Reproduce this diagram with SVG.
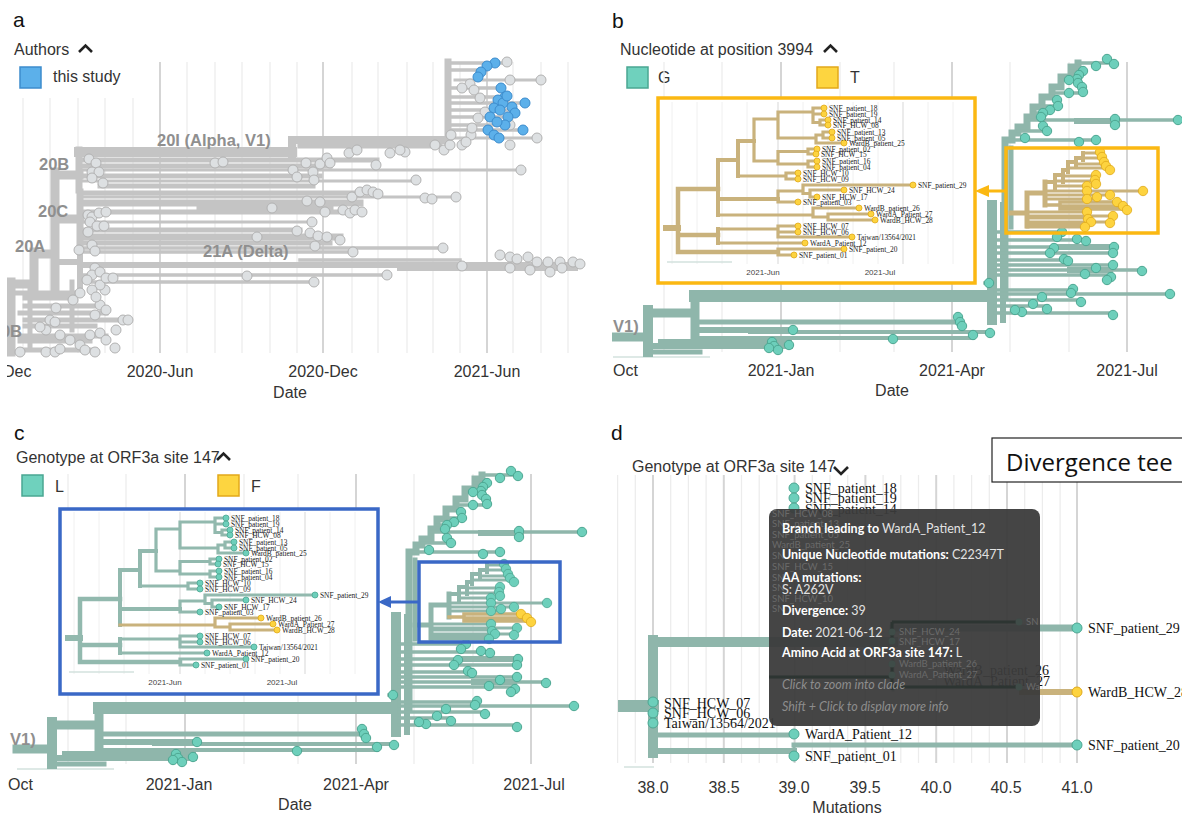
<svg xmlns="http://www.w3.org/2000/svg" width="1182" height="819" viewBox="0 0 1182 819">
<style>
text{font-family:"Liberation Sans",Arial,sans-serif}
.pl{font-size:21px;fill:#111}
.lg{font-size:16px;fill:#333}
.ax{font-size:16px;fill:#333;text-anchor:middle}
.cl{font-size:16.5px;font-weight:bold;fill:#8f8f8f}
.chev{fill:none;stroke:#222;stroke-width:2.6}
.gl{stroke:#ececec;stroke-width:1.2}
.gd{stroke:#d5d5d5;stroke-width:2}
.ga{fill:none;stroke:#c4c4c4;stroke-linecap:square}
.na circle{fill:#dde0e2;stroke:#b2b2b2;stroke-width:1}
.nb circle{fill:#5cb0ea;stroke:#3c8ccd;stroke-width:1}
.lt{fill:none;stroke:#8fb6ab;stroke-linecap:square}
.nt circle{fill:#6dcfbb;stroke:#4da792;stroke-width:1}
.ny circle{fill:#fdd33f;stroke:#e0a91b;stroke-width:1}
.vl{fill:none;stroke:var(--lc);stroke-linecap:square}
.vw{fill:none;stroke:var(--lw);stroke-linecap:square}
.vn circle{fill:var(--nf);stroke:var(--ns);stroke-width:0.8}
.vm circle{fill:var(--wf);stroke:var(--ws);stroke-width:0.8}
.il text{font-family:"Liberation Serif","Times New Roman",serif;font-size:7.4px;fill:#222}
.ix{font-size:8px;fill:#444;text-anchor:middle}
.dl text{font-family:"Liberation Serif","Times New Roman",serif;font-size:14px;fill:#111}
.tt text{font-family:Lato,"Liberation Sans",sans-serif;font-size:12.5px;fill:#e2e2e2}
.tt .tb{font-weight:bold;fill:#fff}
.tt .ti{font-style:italic;fill:#8d8d8d}
.fl text{font-size:9.5px;fill:#6a6a6a;font-family:Lato,"Liberation Sans",sans-serif}
.big{font-family:"Open Sans","Noto Sans",sans-serif;font-size:24px;fill:#111}
</style>
<defs>
<clipPath id="clipA"><rect x="7" y="0" width="583" height="410"/></clipPath>
<clipPath id="clipB"><rect x="612" y="40" width="570" height="370"/></clipPath>
<clipPath id="clipC"><rect x="8" y="440" width="592" height="379"/></clipPath>

<g id="bcGrid">
<path class="gl" d="M664,62V352 M722,62V352 M840,62V352 M894,62V352 M1010,62V352 M1069,62V352"/>
<path class="gd" d="M781,62V352 M952,62V352 M1127,62V352"/>
</g>

<g id="bcBase">
<path d="M613,357H710" stroke="#d3e2de" stroke-width="1.5"/>
<path class="lt" stroke-width="9" d="M613,337H648 M648,313H695 M695,296V335"/>
<path class="lt" stroke-width="10" d="M648,310V352 M992,205V320"/>
<path class="lt" stroke-width="12" d="M695,296H985"/>
<path class="lt" stroke-width="6" d="M1003,205V320 M700,330H793 M648,346H790 M1060,247H1110 M1070,270H1110 M1077,121H1117"/>
<path class="lt" stroke-width="5" d="M700,322H958 M648,352H700 M1011,148V227"/>
<path class="lt" stroke-width="4" d="M750,332H990 M700,338H973 M660,341H790"/>
<path class="lt" stroke-width="7" stroke-linejoin="miter" d="M1005,296V140H1012V133H1018V127H1027V117H1033V107H1042V97H1052V87H1061V77H1071V67H1078V63"/>
<path class="lt" stroke-width="3.5" d="M1005,140H1096 M1018,131H1047 M1027,120H1178 M1033,113H1043 M1042,106H1058 M1052,93H1083 M1061,80H1078 M1071,71H1083 M1078,63H1114 M995,232H1062 M995,240H1086 M995,247H1114 M995,253H1113 M995,260H1067 M995,265H1113 M995,270H1142 M995,275H1111 M995,290H1073 M995,294H1170 M995,300H1081 M995,306H1047 M995,313H1113 M985,283H989"/>
<g class="nt">
<circle cx="1107" cy="59" r="4.7"/><circle cx="1114" cy="64" r="4.7"/><circle cx="1096" cy="66" r="4.7"/><circle cx="1083" cy="71" r="4.7"/><circle cx="1079" cy="75" r="4.7"/><circle cx="1077" cy="79" r="4.7"/><circle cx="1078" cy="83" r="4.7"/><circle cx="1082" cy="87" r="4.7"/><circle cx="1083" cy="92" r="4.7"/><circle cx="1069" cy="80" r="4.7"/><circle cx="1069" cy="93" r="4.7"/><circle cx="1057" cy="100" r="4.7"/><circle cx="1058" cy="106" r="4.7"/><circle cx="1050" cy="110" r="4.7"/><circle cx="1043" cy="113" r="4.7"/><circle cx="1041" cy="117" r="4.7"/><circle cx="1043" cy="126" r="4.7"/><circle cx="1047" cy="131" r="4.7"/><circle cx="1025" cy="138" r="4.7"/><circle cx="1079" cy="142" r="4.7"/><circle cx="1096" cy="140" r="4.7"/><circle cx="1115" cy="119" r="4.7"/><circle cx="1115" cy="125" r="4.7"/><circle cx="1178" cy="120" r="4.7"/>
<circle cx="1062" cy="232" r="4.7"/><circle cx="1057" cy="237" r="4.7"/><circle cx="1077" cy="239" r="4.7"/><circle cx="1086" cy="241" r="4.7"/><circle cx="1054" cy="248" r="4.7"/><circle cx="1050" cy="253" r="4.7"/><circle cx="1114" cy="247" r="4.7"/><circle cx="1113" cy="253" r="4.7"/><circle cx="1064" cy="259" r="4.7"/><circle cx="1068" cy="261" r="4.7"/><circle cx="1113" cy="265" r="4.7"/><circle cx="1096" cy="268" r="4.7"/><circle cx="1142" cy="271" r="4.7"/><circle cx="1085" cy="274" r="4.7"/><circle cx="1111" cy="277" r="4.7"/><circle cx="1107" cy="280" r="4.7"/><circle cx="1073" cy="289" r="4.7"/><circle cx="1071" cy="293" r="4.7"/><circle cx="1170" cy="294" r="4.7"/><circle cx="1042" cy="297" r="4.7"/><circle cx="1033" cy="304" r="4.7"/><circle cx="1047" cy="309" r="4.7"/><circle cx="1081" cy="302" r="4.7"/><circle cx="1022" cy="312" r="4.7"/><circle cx="1113" cy="315" r="4.7"/><circle cx="1015" cy="310" r="4.7"/><circle cx="989" cy="283" r="4.7"/>
<circle cx="793" cy="330" r="4.7"/><circle cx="772" cy="342" r="4.7"/><circle cx="774" cy="346" r="4.7"/><circle cx="778" cy="350" r="4.7"/><circle cx="769" cy="348" r="4.7"/><circle cx="789" cy="345" r="4.7"/><circle cx="958" cy="317" r="4.7"/><circle cx="960" cy="322" r="4.7"/><circle cx="962" cy="326" r="4.7"/><circle cx="990" cy="333" r="4.7"/><circle cx="973" cy="335" r="4.7"/><circle cx="893" cy="339" r="4.7"/>
</g>
</g>

<g id="bcClade">
<path class="vl" stroke-width="5" d="M1011,213H1027 M1027,193V226 M1027,193H1045 M1045,182V205"/>
<path class="vl" stroke-width="4" d="M1045,182H1055 M1055,175V190 M1055,175H1063 M1063,170V182 M1063,170H1068 M1068,162V172 M1068,162H1076 M1076,158V166 M1076,158H1083 M1083,153V160"/>
<path class="vl" stroke-width="3" d="M1083,153H1100 M1083,158H1103 M1076,164H1104 M1068,168H1110 M1063,176H1096 M1055,181H1095 M1055,186H1087 M1045,191H1143 M1045,195H1110 M1045,199H1097 M1027,212H1087 M1027,218H1088 M1027,216H1113 M1027,222H1110 M1027,224H1091 M1027,227H1085"/>
<path class="vw" stroke-width="3.5" d="M1045,205H1060 M1060,202V209 M1060,202H1117 M1060,206H1123 M1060,209H1127"/>
<g class="vn">
<circle cx="1100" cy="152" r="4.7"/><circle cx="1102" cy="157" r="4.7"/><circle cx="1104" cy="162" r="4.7"/><circle cx="1106" cy="166" r="4.7"/><circle cx="1110" cy="170" r="4.7"/><circle cx="1096" cy="175" r="4.7"/><circle cx="1095" cy="180" r="4.7"/><circle cx="1096" cy="184" r="4.7"/><circle cx="1087" cy="186" r="4.7"/><circle cx="1087" cy="191" r="4.7"/><circle cx="1143" cy="191" r="4.7"/><circle cx="1110" cy="195" r="4.7"/><circle cx="1097" cy="197" r="4.7"/><circle cx="1087" cy="199" r="4.7"/><circle cx="1087" cy="212" r="4.7"/><circle cx="1088" cy="219" r="4.7"/><circle cx="1113" cy="216" r="4.7"/><circle cx="1110" cy="223" r="4.7"/><circle cx="1091" cy="222" r="4.7"/><circle cx="1085" cy="227" r="4.7"/>
</g>
<g class="vm"><circle cx="1117" cy="202" r="4.7"/><circle cx="1123" cy="206" r="4.7"/><circle cx="1127" cy="210" r="4.7"/></g>
</g>

<g id="inset">
<path d="M14,4V166 M39,4V166 M64,4V166 M89,4V166 M145,4V166 M170,4V166 M195,4V166 M220,4V166 M270,4V166 M295,4V166" stroke="#eeeeee" stroke-width="0.9"/>
<path d="M120,4V166 M245,4V166" stroke="#e0e0e0" stroke-width="1.3"/>
<path d="M9,164H74" stroke="#d3e2de" stroke-width="1.5"/>
<text class="ix" x="105" y="177">2021-Jun</text>
<text class="ix" x="222" y="177">2021-Jul</text>
<path class="vl" stroke-width="6" d="M8,130H20"/>
<path class="vl" stroke-width="4.5" d="M20,91V154 M20,91H60 M20,137H60 M20,154H120"/>
<path class="vl" stroke-width="4" d="M60,62V117 M60,62H80 M80,43V78 M80,43H96 M60,101H120 M60,131V145"/>
<path class="vl" stroke-width="3.2" d="M96,21V63 M96,21H120 M120,14V40 M120,14H155 M155,10V24.5 M155,10H166 M155,16H166 M155,24.5H162 M162,22V27 M162,22H170 M162,27H170 M120,40H158 M158,37V45 M158,37H165 M165,34V40 M165,34H174 M165,40H174 M158,45H186 M96,63H120 M120,53.5V66 M120,53.5H150 M150,51V56 M150,51H159 M150,56H158 M120,66H150 M150,63V69 M150,63H159 M150,69H159 M80,78H128 M128,75V81 M128,75H140 M128,81H140 M120,93V104 M120,93H145 M145,87V95.5 M145,87H255 M145,95.5H152 M152,92V99 M152,92H186 M152,99H159 M120,104H140 M60,131H120 M120,128V139 M120,128H140 M120,134H140 M120,139H194 M60,145H147 M120,151V157 M120,151H186 M120,157H136"/>
<path class="vw" stroke-width="3.2" d="M60,117H155 M155,110V119 M155,110H201 M155,119H170 M170,116V122 M170,116H213 M170,122H217"/>
<g class="vn">
<circle cx="166" cy="10" r="3"/><circle cx="166" cy="16" r="3"/><circle cx="170" cy="22" r="3"/><circle cx="170" cy="27" r="3"/><circle cx="174" cy="34" r="3"/><circle cx="174" cy="40" r="3"/><circle cx="186" cy="45" r="3"/><circle cx="159" cy="51" r="3"/><circle cx="158" cy="56" r="3"/><circle cx="159" cy="63" r="3"/><circle cx="159" cy="69" r="3"/><circle cx="140" cy="75" r="3"/><circle cx="140" cy="81" r="3"/><circle cx="255" cy="87" r="3"/><circle cx="186" cy="92" r="3"/><circle cx="159" cy="99" r="3"/><circle cx="140" cy="104" r="3"/><circle cx="140" cy="128" r="3"/><circle cx="140" cy="134" r="3"/><circle cx="194" cy="139" r="3"/><circle cx="147" cy="145" r="3"/><circle cx="186" cy="151" r="3"/><circle cx="136" cy="157" r="3"/>
</g>
<g class="vm"><circle cx="201" cy="110" r="3"/><circle cx="213" cy="116" r="3"/><circle cx="217" cy="122" r="3"/></g>
<g class="il">
<text x="171" y="12.5">SNF_patient_18</text><text x="171" y="18.5">SNF_patient_19</text><text x="175" y="24.5">SNF_patient_14</text><text x="175" y="29.5">SNF_HCW_08</text><text x="179" y="36.5">SNF_patient_13</text><text x="179" y="42.5">SNF_patient_05</text><text x="191" y="47.5">WardB_patient_25</text><text x="164" y="53.5">SNF_patient_02</text><text x="163" y="58.5">SNF_HCW_15</text><text x="164" y="65.5">SNF_patient_16</text><text x="164" y="71.5">SNF_patient_04</text><text x="145" y="77.5">SNF_HCW_10</text><text x="145" y="83.5">SNF_HCW_09</text><text x="260" y="89.5">SNF_patient_29</text><text x="191" y="94.5">SNF_HCW_24</text><text x="164" y="101.5">SNF_HCW_17</text><text x="145" y="106.5">SNF_patient_03</text><text x="206" y="112.5">WardB_patient_26</text><text x="218" y="118.5">WardA_Patient_27</text><text x="222" y="124.5">WardB_HCW_28</text><text x="145" y="130.5">SNF_HCW_07</text><text x="145" y="136.5">SNF_HCW_06</text><text x="199" y="141.5">Taiwan/13564/2021</text><text x="152" y="147.5">WardA_Patient_12</text><text x="191" y="153.5">SNF_patient_20</text><text x="141" y="159.5">SNF_patient_01</text>
</g>
</g>
</defs>

<rect width="1182" height="819" fill="#ffffff"/>

<!-- Panel a -->
<g id="panel-a">
<text class="pl" x="13" y="27">a</text>
<text class="lg" x="14" y="55">Authors</text>
<polyline class="chev" points="79,52 85.5,45.5 92,52"/>
<rect x="20" y="67" width="21" height="21" fill="#5cb0ea" stroke="#3c8ccd" stroke-width="1.5"/>
<text class="lg" x="53" y="82">this study</text>
<g clip-path="url(#clipA)">
<path class="gl" d="M23,98V353 M50,98V353 M78,98V353 M105,98V353 M133,98V353 M187,62V353 M215,62V353 M242,62V353 M270,62V353 M297,62V353 M352,62V353 M378,62V353 M407,62V353 M433,62V353 M460,62V353 M513,62V353 M541,62V353 M568,62V353"/>
<path class="gd" d="M160,62V353 M323,62V353 M487,62V353"/>
<g id="tree-a">
<path class="ga" stroke-width="9" d="M11,352V282 M11,284H34 M34,290V252 M34,254H55 M55,293V172 M55,175H79 M55,219H80"/>
<path class="ga" stroke-width="10" d="M79,152H292"/>
<path class="ga" stroke-width="8" d="M292,154V140 M292,140H448"/>
<path class="ga" stroke-width="7" d="M79,190V150 M448,144V62 M80,192V244 M80,203H360 M200,208H330 M80,237H340"/>
<path class="ga" stroke-width="5" d="M79,160H377 M79,166H330 M79,176H320 M100,186H313 M300,146H440 M80,193H380 M80,212H340 M80,230H300 M80,243H330"/>
<path class="ga" stroke-width="3" d="M79,170H521 M79,181H416 M455,80H541 M448,138H537 M80,197H456 M80,222H312"/>
<path class="ga" stroke-width="3.5" d="M448,63H507 M448,70H480 M448,88H500 M448,97H507 M448,103H525 M448,110H515 M448,117H510 M448,125H510 M448,130H523 M80,248H443 M80,252H353 M80,275H387 M80,282H314 M300,260H460"/>
<path class="ga" stroke-width="6" d="M55,262H80 M80,256V290 M80,265H580 M400,268H575"/>
<path class="ga" stroke-width="5" d="M11,293H80 M25,298H73 M25,306H100 M20,313H106 M25,320H128 M25,326H95 M20,336H106 M20,341H90 M20,350H95 M30,290V350 M72,282V330"/>
<g class="na">
<circle cx="80" cy="293" r="5"/><circle cx="73" cy="300" r="5"/><circle cx="56" cy="308" r="5"/><circle cx="100" cy="305" r="5"/><circle cx="106" cy="310" r="5"/><circle cx="95" cy="315" r="5"/><circle cx="123" cy="320" r="5"/><circle cx="128" cy="320" r="5"/><circle cx="116" cy="330" r="5"/><circle cx="50" cy="320" r="5"/><circle cx="55" cy="322" r="5"/><circle cx="46" cy="330" r="5"/><circle cx="60" cy="335" r="5"/><circle cx="90" cy="335" r="5"/><circle cx="100" cy="333" r="5"/><circle cx="106" cy="340" r="5"/><circle cx="115" cy="348" r="5"/><circle cx="20" cy="352" r="5"/><circle cx="46" cy="352" r="5"/><circle cx="55" cy="352" r="5"/><circle cx="60" cy="349" r="5"/><circle cx="80" cy="345" r="5"/><circle cx="85" cy="350" r="5"/><circle cx="95" cy="352" r="5"/><circle cx="70" cy="340" r="5"/><circle cx="40" cy="327" r="5"/><circle cx="105" cy="290" r="5"/><circle cx="100" cy="285" r="5"/><circle cx="92" cy="290" r="5"/><circle cx="96" cy="297" r="5"/>
<circle cx="95" cy="268" r="5"/><circle cx="92" cy="275" r="5"/><circle cx="100" cy="272" r="5"/><circle cx="106" cy="278" r="5"/><circle cx="87" cy="280" r="5"/><circle cx="113" cy="278" r="5"/>
<circle cx="89" cy="159" r="5"/><circle cx="96" cy="163" r="5"/><circle cx="92" cy="172" r="5"/><circle cx="99" cy="172" r="5"/><circle cx="103" cy="183" r="5"/><circle cx="92" cy="178" r="5"/>
<circle cx="215" cy="163" r="5"/><circle cx="223" cy="162" r="5"/><circle cx="306" cy="163" r="5"/><circle cx="320" cy="164" r="5"/><circle cx="327" cy="158" r="5"/><circle cx="330" cy="163" r="5"/><circle cx="349" cy="153" r="5"/><circle cx="357" cy="150" r="5"/><circle cx="376" cy="165" r="5"/><circle cx="293" cy="170" r="5"/><circle cx="297" cy="177" r="5"/><circle cx="313" cy="172" r="5"/><circle cx="314" cy="180" r="5"/><circle cx="405" cy="152" r="5"/><circle cx="435" cy="145" r="5"/><circle cx="444" cy="150" r="5"/><circle cx="450" cy="145" r="5"/><circle cx="462" cy="145" r="5"/><circle cx="390" cy="153" r="5"/><circle cx="400" cy="150" r="5"/><circle cx="521" cy="170" r="5"/><circle cx="416" cy="180" r="5"/>
<circle cx="88" cy="215" r="5"/><circle cx="92" cy="217" r="5"/><circle cx="99" cy="213" r="5"/><circle cx="106" cy="212" r="5"/><circle cx="90" cy="222" r="5"/><circle cx="97" cy="226" r="5"/><circle cx="104" cy="226" r="5"/><circle cx="88" cy="232" r="5"/><circle cx="272" cy="208" r="5"/><circle cx="307" cy="201" r="5"/><circle cx="320" cy="202" r="5"/><circle cx="352" cy="197" r="5"/><circle cx="360" cy="192" r="5"/><circle cx="367" cy="190" r="5"/><circle cx="373" cy="192" r="5"/><circle cx="378" cy="194" r="5"/><circle cx="325" cy="212" r="5"/><circle cx="343" cy="210" r="5"/><circle cx="350" cy="213" r="5"/><circle cx="355" cy="210" r="5"/><circle cx="362" cy="212" r="5"/><circle cx="425" cy="198" r="5"/><circle cx="432" cy="199" r="5"/><circle cx="456" cy="197" r="5"/><circle cx="312" cy="222" r="5"/><circle cx="297" cy="231" r="5"/><circle cx="310" cy="233" r="5"/><circle cx="318" cy="236" r="5"/><circle cx="327" cy="237" r="5"/><circle cx="340" cy="240" r="5"/><circle cx="257" cy="237" r="5"/>
<circle cx="79" cy="250" r="5"/><circle cx="92" cy="245" r="5"/><circle cx="95" cy="251" r="5"/><circle cx="443" cy="248" r="5"/><circle cx="353" cy="252" r="5"/><circle cx="315" cy="246" r="5"/>
<circle cx="462" cy="266" r="5"/><circle cx="500" cy="255" r="5"/><circle cx="510" cy="257" r="5"/><circle cx="517" cy="259" r="5"/><circle cx="528" cy="257" r="5"/><circle cx="537" cy="262" r="5"/><circle cx="548" cy="262" r="5"/><circle cx="560" cy="262" r="5"/><circle cx="573" cy="262" r="5"/><circle cx="580" cy="264" r="5"/><circle cx="530" cy="270" r="5"/><circle cx="550" cy="272" r="5"/><circle cx="562" cy="268" r="5"/><circle cx="510" cy="268" r="5"/>
<circle cx="387" cy="275" r="5"/><circle cx="247" cy="276" r="5"/><circle cx="314" cy="282" r="5"/>
<circle cx="507" cy="62" r="5"/><circle cx="510" cy="80" r="5"/><circle cx="541" cy="80" r="5"/><circle cx="470" cy="84" r="5"/><circle cx="462" cy="88" r="5"/><circle cx="474" cy="90" r="5"/><circle cx="510" cy="125" r="5"/><circle cx="537" cy="138" r="5"/><circle cx="510" cy="145" r="5"/><circle cx="471" cy="135" r="5"/><circle cx="466" cy="142" r="5"/><circle cx="451" cy="135" r="5"/><circle cx="480" cy="98" r="5"/><circle cx="485" cy="112" r="5"/><circle cx="478" cy="118" r="5"/><circle cx="472" cy="128" r="5"/>
</g>
<g class="nb">
<circle cx="495" cy="63" r="5"/><circle cx="487" cy="66" r="5"/><circle cx="481" cy="72" r="5"/><circle cx="478" cy="77" r="5"/><circle cx="501" cy="88" r="5"/><circle cx="505" cy="97" r="5"/><circle cx="498" cy="100" r="5"/><circle cx="503" cy="103" r="5"/><circle cx="507" cy="96" r="5"/><circle cx="494" cy="108" r="5"/><circle cx="500" cy="110" r="5"/><circle cx="512" cy="107" r="5"/><circle cx="525" cy="103" r="5"/><circle cx="515" cy="113" r="5"/><circle cx="508" cy="117" r="5"/><circle cx="490" cy="117" r="5"/><circle cx="488" cy="130" r="5"/><circle cx="494" cy="135" r="5"/><circle cx="499" cy="138" r="5"/><circle cx="523" cy="130" r="5"/><circle cx="505" cy="125" r="5"/><circle cx="497" cy="122" r="5"/>
</g>
</g>
<text class="cl" x="157" y="146">20I (Alpha, V1)</text>
<text class="cl" x="39" y="170">20B</text>
<text class="cl" x="38" y="217">20C</text>
<text class="cl" x="15" y="252">20A</text>
<text class="cl" x="203" y="257">21A (Delta)</text>
<text class="cl" x="22" y="337" text-anchor="end">0B</text>
<text class="lg" x="3" y="377">Dec</text>
<text class="ax" x="160" y="377">2020-Jun</text>
<text class="ax" x="323" y="377">2020-Dec</text>
<text class="ax" x="487" y="377">2021-Jun</text>
</g>
<text class="ax" x="290" y="398">Date</text>
</g>

<!-- Panel b -->
<g id="panel-b">
<text class="pl" x="612" y="28">b</text>
<text class="lg" x="620" y="55">Nucleotide at position 3994</text>
<polyline class="chev" points="824,52 830.5,45.5 837,52"/>
<rect x="627" y="67" width="21" height="21" fill="#6fd1bd" stroke="#4aa792" stroke-width="1.5"/>
<text class="lg" x="658" y="83">G</text>
<rect x="817" y="67" width="21" height="21" fill="#fdd540" stroke="#e2a81a" stroke-width="1.5"/>
<text class="lg" x="850" y="83">T</text>
<g clip-path="url(#clipB)">
<use href="#bcGrid"/>
<use href="#bcBase"/>
<use href="#bcClade" style="--lc:#c9b27c;--lw:#c9b27c;--nf:#fdd33f;--ns:#e0a91b;--wf:#fdd33f;--ws:#e0a91b"/>
<text class="cl" x="613" y="332">V1)</text>
<text class="lg" x="613" y="376">Oct</text>
<text class="ax" x="781" y="376">2021-Jan</text>
<text class="ax" x="952" y="376">2021-Apr</text>
<text class="ax" x="1127" y="376">2021-Jul</text>
</g>
<text class="ax" x="892" y="396">Date</text>
<g id="inset-b">
<rect x="658" y="98" width="317" height="185" fill="#ffffff"/>
<use href="#inset" transform="translate(658,98)" style="--lc:#c9b27c;--lw:#c9b27c;--nf:#fdd33f;--ns:#e0a91b;--wf:#fdd33f;--ws:#e0a91b"/>
<rect x="658" y="98" width="317" height="185" fill="none" stroke="#fbb812" stroke-width="3.5"/>
</g>
<rect x="1006" y="148" width="152" height="85" fill="none" stroke="#fbb812" stroke-width="3.5"/>
<path d="M988,191H1006" stroke="#fbb812" stroke-width="3"/>
<polygon points="975,191 989,185 989,197" fill="#fbb812"/>
</g>

<!-- Panel c -->
<g id="panel-c">
<text class="pl" x="14" y="440">c</text>
<text class="lg" x="16" y="463">Genotype at ORF3a site 147</text>
<polyline class="chev" points="217,460 223.5,453.5 230,460"/>
<rect x="22" y="475" width="21" height="21" fill="#6fd1bd" stroke="#4aa792" stroke-width="1.5"/>
<text class="lg" x="55" y="492">L</text>
<rect x="218" y="475" width="21" height="21" fill="#fdd540" stroke="#e2a81a" stroke-width="1.5"/>
<text class="lg" x="251" y="492">F</text>
<g clip-path="url(#clipC)">
<g transform="translate(-596,412)">
<use href="#bcGrid"/>
<use href="#bcBase"/>
<use href="#bcClade" style="--lc:#8fb6ab;--lw:#c9b27c;--nf:#6dcfbb;--ns:#4da792;--wf:#fdd33f;--ws:#e0a91b"/>
</g>
<text class="cl" x="10" y="745">V1)</text>
<text class="lg" x="8" y="790">Oct</text>
<text class="ax" x="179" y="790">2021-Jan</text>
<text class="ax" x="356" y="790">2021-Apr</text>
<text class="ax" x="534" y="790">2021-Jul</text>
</g>
<text class="ax" x="295" y="810">Date</text>
<g id="inset-c">
<rect x="60" y="509" width="318" height="185" fill="#ffffff"/>
<use href="#inset" transform="translate(60,508)" style="--lc:#92b9ae;--lw:#c9b27c;--nf:#6dcfbb;--ns:#4da792;--wf:#fdd33f;--ws:#e0a91b"/>
<rect x="60" y="509" width="318" height="185" fill="none" stroke="#3a68c6" stroke-width="3.5"/>
</g>
<rect x="419" y="562" width="141" height="80" fill="none" stroke="#3a68c6" stroke-width="3.5"/>
<path d="M390,602H419" stroke="#3a68c6" stroke-width="3"/>
<polygon points="378,602 391,596 391,608" fill="#3a68c6"/>
</g>

<!-- Panel d -->
<g id="panel-d">
<text class="pl" x="611" y="440">d</text>
<text class="lg" x="632" y="472">Genotype at ORF3a site 147</text>
<polyline class="chev" points="834,467 841,474 848,467"/>
<path class="gl" d="M617.6,475V763 M635.3,475V763 M670.7,475V763 M688.4,475V763 M706.1,475V763 M741.5,475V763 M759.2,475V763 M776.9,475V763 M812.3,475V763 M830,475V763 M847.7,475V763 M883.1,475V763 M900.8,475V763 M918.5,475V763 M953.9,475V763 M971.6,475V763 M989.3,475V763 M1024.7,475V763 M1042.4,475V763 M1060.1,475V763"/>
<path class="gd" d="M653,475V763 M723.8,475V763 M794.6,475V763 M865.4,475V763 M936.2,475V763 M1007,475V763 M1077,475V763"/>
<g id="tree-d">
<path d="M624,767H654" stroke="#d3e2de" stroke-width="1.5"/>
<path class="lt" stroke-width="12" d="M624,706H653"/>
<path class="lt" stroke-width="10" d="M653,640V753 M653,642H893"/>
<path class="lt" stroke-width="7" d="M893,628H1077"/>
<path class="lt" stroke-width="5" d="M653,735H794 M794,745H1077"/>
<path class="lt" stroke-width="6" d="M653,751H794"/>
<path class="lt" stroke-width="3" d="M794,745V756 M893,622V690"/>
<path d="M1019,692H1077" stroke="#c9b27c" stroke-width="6" fill="none"/>
<g class="nt">
<circle cx="794" cy="488" r="5"/><circle cx="794" cy="498" r="5"/><circle cx="794" cy="508" r="5"/><circle cx="653" cy="702" r="5"/><circle cx="653" cy="713" r="5"/><circle cx="653" cy="723" r="5"/><circle cx="794" cy="734" r="5"/><circle cx="794" cy="756" r="5"/><circle cx="1077" cy="628" r="5"/><circle cx="1077" cy="745" r="5"/>
</g>
<g class="ny"><circle cx="1077" cy="692" r="5"/></g>
<g class="dl">
<text x="805" y="493">SNF_patient_18</text>
<text x="805" y="503">SNF_patient_19</text>
<text x="805" y="514">SNF_patient_14</text>
<text x="664" y="708">SNF_HCW_07</text>
<text x="664" y="718">SNF_HCW_06</text>
<text x="664" y="728">Taiwan/13564/2021</text>
<text x="805" y="739">WardA_Patient_12</text>
<text x="805" y="761">SNF_patient_01</text>
<text x="1088" y="633">SNF_patient_29</text>
<text x="1088" y="697">WardB_HCW_28</text>
<text x="1088" y="750">SNF_patient_20</text>
<text x="1049" y="675" text-anchor="end">WardB_patient_26</text>
<text x="1050" y="686" text-anchor="end">WardA_Patient_27</text>
</g>
</g>
<g id="tooltip">
<rect x="769" y="509" width="271" height="217" rx="8" fill="#3b3b3b" fill-opacity="0.95"/>
<path d="M892,622H1019 M892,622V642 M769,677H892 M892,664V690 M892,687H1019" stroke="#2d3532" stroke-width="3" fill="none"/>
<g fill="#3f4c48"><circle cx="892" cy="632" r="3.5"/><circle cx="892" cy="641" r="3.5"/><circle cx="892" cy="664" r="3.5"/><circle cx="892" cy="675" r="3.5"/><circle cx="1019" cy="622" r="3.5"/><circle cx="1019" cy="687" r="3.5"/></g>
<g class="fl">
<text x="772" y="517">SNF_HCW_08</text>
<text x="772" y="527">SNF_patient_13</text>
<text x="772" y="538">SNF_patient_05</text>
<text x="772" y="548">WardB_patient_25</text>
<text x="772" y="559">SN</text>
<text x="772" y="570">SNF_HCW_15</text>
<text x="772" y="581">SN</text>
<text x="772" y="591">SN</text>
<text x="772" y="602">SNF_HCW_10</text>
<text x="772" y="612">SN</text>
<text x="899" y="635">SNF_HCW_24</text>
<text x="899" y="645">SNF_HCW_17</text>
<text x="899" y="667">WardB_patient_26</text>
<text x="899" y="678">WardA_Patient_27</text>
<text x="1026" y="625">SN</text>
<text x="1026" y="690">Wa</text>
</g>
<g class="tt">
<text x="782" y="533"><tspan class="tb">Branch leading to </tspan>WardA_Patient_12</text>
<text x="782" y="559"><tspan class="tb">Unique Nucleotide mutations: </tspan>C22347T</text>
<text x="782" y="582" class="tb">AA mutations:</text>
<text x="782" y="594">S: A262V</text>
<text x="782" y="615"><tspan class="tb">Divergence: </tspan>39</text>
<text x="782" y="637"><tspan class="tb">Date: </tspan>2021-06-12</text>
<text x="782" y="657"><tspan class="tb">Amino Acid at ORF3a site 147: </tspan>L</text>
<text x="782" y="689" class="ti">Click to zoom into clade</text>
<text x="782" y="711" class="ti">Shift + Click to display more info</text>
</g>
</g>
<g id="title-box">
<rect x="992" y="438" width="195" height="44" fill="#ffffff" stroke="#222" stroke-width="1.2"/>
<text class="big" x="1006" y="471">Divergence tee</text>
</g>
<text class="ax" x="653" y="793">38.0</text>
<text class="ax" x="724" y="793">38.5</text>
<text class="ax" x="794" y="793">39.0</text>
<text class="ax" x="865" y="793">39.5</text>
<text class="ax" x="936" y="793">40.0</text>
<text class="ax" x="1006" y="793">40.5</text>
<text class="ax" x="1077" y="793">41.0</text>
<text class="ax" x="847" y="813">Mutations</text>
</g>
</svg>
